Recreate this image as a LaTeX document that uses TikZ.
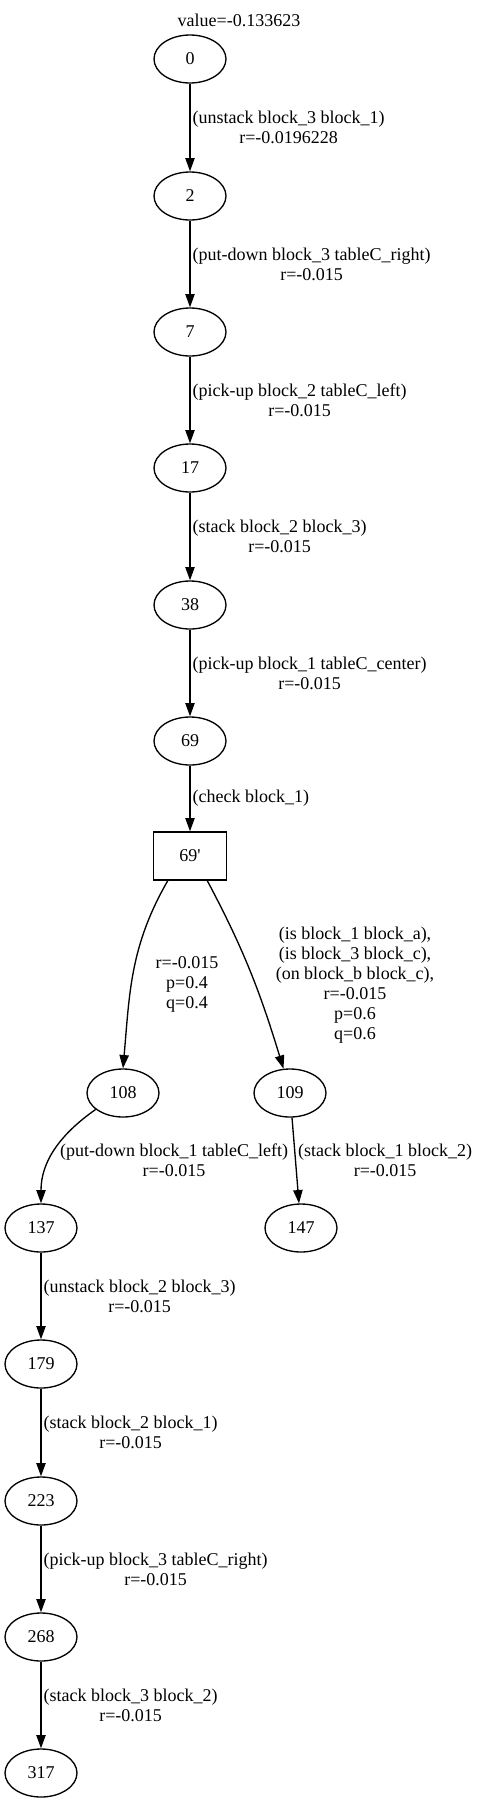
\documentclass[tikz,border=0pt]{standalone}
\usepackage{fontspec}
\setmainfont{Liberation Serif}
\usetikzlibrary{arrows.meta,shapes.geometric}

\tikzset{
  state/.style={draw, ellipse, line width=1pt, minimum width=54pt, minimum height=36pt, inner sep=0pt},
  chance/.style={draw, rectangle, line width=1pt, minimum width=54.75pt, minimum height=36pt, inner sep=0pt},
  edge/.style={line width=1pt, -{Triangle[length=10pt,width=7pt]}},
  lbl/.style={align=center, inner sep=0pt},
}

\begin{document}
\begin{tikzpicture}[x=0.75pt,y=-0.75pt,font=\fontsize{13.5}{15}\selectfont]
    \useasboundingbox (0,0) rectangle (479,1803);
    \node[lbl] (value) at (239,20) {value=-0.133623};
    % states
    \foreach \n/\y in {0/59,2/196,7/332,17/468,38/605,69/741}
    \node[state] (n\n) at (190,\y) {\n};
    \node[chance] (n69p) at (190,856) {69\textquotesingle};
    \node[state] (n108) at (123,1093) {108};
    \node[state] (n109) at (290,1093) {109};
    \node[state] (n147) at (301,1228) {147};
    \foreach \n/\y in {137/1228,179/1364,223/1501,268/1637,317/1773}
    \node[state] (n\n) at (41,\y) {\n};
    % straight moves
    \foreach \a/\b/\t in {0/2/{(unstack block\_3 block\_1)\\r=-0.0196228},
        2/7/{(put-down block\_3 tableC\_right)\\r=-0.015},
        7/17/{(pick-up block\_2 tableC\_left)\\r=-0.015},
        17/38/{(stack block\_2 block\_3)\\r=-0.015},
        38/69/{(pick-up block\_1 tableC\_center)\\r=-0.015},
        69/69p/{(check block\_1)},
        109/147/{(stack block\_1 block\_2)\\r=-0.015},
        137/179/{(unstack block\_2 block\_3)\\r=-0.015},
        179/223/{(stack block\_2 block\_1)\\r=-0.015},
        223/268/{(pick-up block\_3 tableC\_right)\\r=-0.015},
        268/317/{(stack block\_3 block\_2)\\r=-0.015}}
    \draw[edge] (n\a) -- node[lbl, midway, anchor=west, xshift=1.5pt] {\t} (n\b);
    % outcomes of the check
    \draw[edge] (n69p.-132) to[out=-120,in=85] (n108.north);
    \node[lbl] (l108) at (187,984) {r=-0.015\\p=0.4\\q=0.4};
    \draw[edge] (n69p.-55) to[out=-62,in=107] (n109.105);
    \node[lbl] (l109) at (355,985) {(is block\_1 block\_a),\\(is block\_3 block\_c),\\(on block\_b block\_c),\\r=-0.015\\p=0.6\\q=0.6};
    \draw[edge] (n108.211) to[out=-145,in=90] (n137.north);
    \node[lbl] (l137) at (174,1160) {(put-down block\_1 tableC\_left)\\r=-0.015};
\end{tikzpicture}
\end{document}
